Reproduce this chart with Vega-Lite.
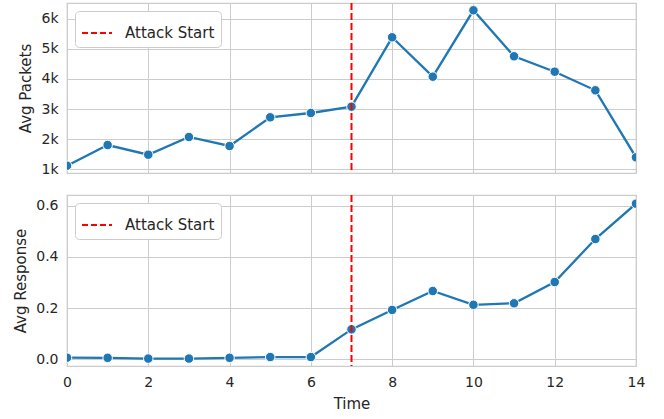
{
  "$schema": "https://vega.github.io/schema/vega-lite/v6.json",
  "padding": {"left": 13, "top": 2, "right": 4, "bottom": 3},
  "background": "white",
  "spacing": 17,
  "datasets": {
    "traffic": [
      {"Time": 0, "AvgPackets": 1110, "AvgResponse": 0.0066},
      {"Time": 1, "AvgPackets": 1800, "AvgResponse": 0.006},
      {"Time": 2, "AvgPackets": 1477, "AvgResponse": 0.003},
      {"Time": 3, "AvgPackets": 2067, "AvgResponse": 0.003},
      {"Time": 4, "AvgPackets": 1767, "AvgResponse": 0.006},
      {"Time": 5, "AvgPackets": 2723, "AvgResponse": 0.009},
      {"Time": 6, "AvgPackets": 2867, "AvgResponse": 0.009},
      {"Time": 7, "AvgPackets": 3077, "AvgResponse": 0.117},
      {"Time": 8, "AvgPackets": 5390, "AvgResponse": 0.193},
      {"Time": 9, "AvgPackets": 4077, "AvgResponse": 0.267},
      {"Time": 10, "AvgPackets": 6290, "AvgResponse": 0.213},
      {"Time": 11, "AvgPackets": 4757, "AvgResponse": 0.219},
      {"Time": 12, "AvgPackets": 4243, "AvgResponse": 0.302},
      {"Time": 13, "AvgPackets": 3623, "AvgResponse": 0.470},
      {"Time": 14, "AvgPackets": 1390, "AvgResponse": 0.608}
    ],
    "attack": [{"Time": 7, "label": "Attack Start"}]
  },
  "resolve": {"scale": {"color": "independent"}, "legend": {"color": "independent"}},
  "vconcat": [
    {
      "width": 569,
      "height": 170,
      "layer": [
        {
          "data": {"name": "traffic"},
          "mark": {"type": "line", "color": "#1f77b4", "strokeWidth": 2.3, "clip": true},
          "encoding": {
            "x": {"field": "Time", "type": "quantitative", "scale": {"domain": [0, 14], "nice": false}, "axis": {"values": [0, 2, 4, 6, 8, 10, 12, 14], "labels": false, "title": null, "labelPadding": 0}},
            "y": {"field": "AvgPackets", "type": "quantitative", "scale": {"domain": [867, 6533], "nice": false, "zero": false}, "axis": {"values": [1000, 2000, 3000, 4000, 5000, 6000], "tickCount": 6, "labelExpr": "(datum.value / 1000) + 'k'", "title": "Avg Packets", "labelOverlap": false, "labelFlush": false}}
          }
        },
        {
          "data": {"name": "traffic"},
          "mark": {"type": "point", "filled": true, "color": "#1f77b4", "size": 90, "stroke": "white", "strokeWidth": 1, "opacity": 1, "clip": true},
          "encoding": {
            "x": {"field": "Time", "type": "quantitative", "axis": {"values": [0, 2, 4, 6, 8, 10, 12, 14], "labels": false, "title": null, "labelPadding": 0}},
            "y": {"field": "AvgPackets", "type": "quantitative", "axis": {"values": [1000, 2000, 3000, 4000, 5000, 6000], "tickCount": 6, "labelExpr": "(datum.value / 1000) + 'k'", "title": "Avg Packets", "labelOverlap": false, "labelFlush": false}}
          }
        },
        {
          "data": {"name": "attack"},
          "mark": {"type": "rule", "strokeWidth": 2, "strokeDash": [7, 3], "clip": true},
          "encoding": {
            "x": {"field": "Time", "type": "quantitative", "axis": {"values": [0, 2, 4, 6, 8, 10, 12, 14], "labels": false, "title": null, "labelPadding": 0}},
            "color": {"field": "label", "type": "nominal", "scale": {"domain": ["Attack Start"], "range": ["#ff0000"]}, "legend": {"title": null}}
          }
        }
      ]
    },
    {
      "width": 569,
      "height": 171,
      "layer": [
        {
          "data": {"name": "traffic"},
          "mark": {"type": "line", "color": "#1f77b4", "strokeWidth": 2.3, "clip": true},
          "encoding": {
            "x": {"field": "Time", "type": "quantitative", "scale": {"domain": [0, 14], "nice": false}, "axis": {"values": [0, 2, 4, 6, 8, 10, 12, 14], "title": "Time", "titlePadding": 7, "labelFlush": false, "labelOverlap": false}},
            "y": {"field": "AvgResponse", "type": "quantitative", "scale": {"domain": [-0.026, 0.642], "nice": false, "zero": false}, "axis": {"values": [0, 0.2, 0.4, 0.6], "format": ".1f", "title": "Avg Response", "labelOverlap": false, "labelFlush": false}}
          }
        },
        {
          "data": {"name": "traffic"},
          "mark": {"type": "point", "filled": true, "color": "#1f77b4", "size": 90, "stroke": "white", "strokeWidth": 1, "opacity": 1, "clip": true},
          "encoding": {
            "x": {"field": "Time", "type": "quantitative", "axis": {"values": [0, 2, 4, 6, 8, 10, 12, 14], "title": "Time", "titlePadding": 7, "labelFlush": false, "labelOverlap": false}},
            "y": {"field": "AvgResponse", "type": "quantitative", "axis": {"values": [0, 0.2, 0.4, 0.6], "format": ".1f", "title": "Avg Response", "labelOverlap": false, "labelFlush": false}}
          }
        },
        {
          "data": {"name": "attack"},
          "mark": {"type": "rule", "strokeWidth": 2, "strokeDash": [7, 3], "clip": true},
          "encoding": {
            "x": {"field": "Time", "type": "quantitative", "axis": {"values": [0, 2, 4, 6, 8, 10, 12, 14], "title": "Time", "titlePadding": 7, "labelFlush": false, "labelOverlap": false}},
            "color": {"field": "label", "type": "nominal", "scale": {"domain": ["Attack Start"], "range": ["#ff0000"]}, "legend": {"title": null}}
          }
        }
      ]
    }
  ],
  "config": {
    "font": "DejaVu Sans",
    "view": {"stroke": "#cccccc", "strokeWidth": 1.25},
    "axis": {
      "gridColor": "#cccccc",
      "gridWidth": 1,
      "domain": false,
      "ticks": false,
      "labelFontSize": 14,
      "labelOverlap": false,
      "labelFlush": false,
      "titleFontSize": 15,
      "titleFontWeight": "normal",
      "labelColor": "#262626",
      "titleColor": "#262626",
      "labelPadding": 9,
      "titlePadding": 7
    },
    "legend": {
      "orient": "top-left",
      "offset": 8,
      "fillColor": "white",
      "strokeColor": "#cccccc",
      "cornerRadius": 4,
      "padding": 6,
      "symbolType": "stroke",
      "symbolSize": 900,
      "symbolStrokeWidth": 2,
      "symbolDash": [6, 3],
      "symbolStrokeColor": "#ff0000",
      "labelFontSize": 15,
      "labelColor": "#262626",
      "labelOffset": 12
    }
  }
}
